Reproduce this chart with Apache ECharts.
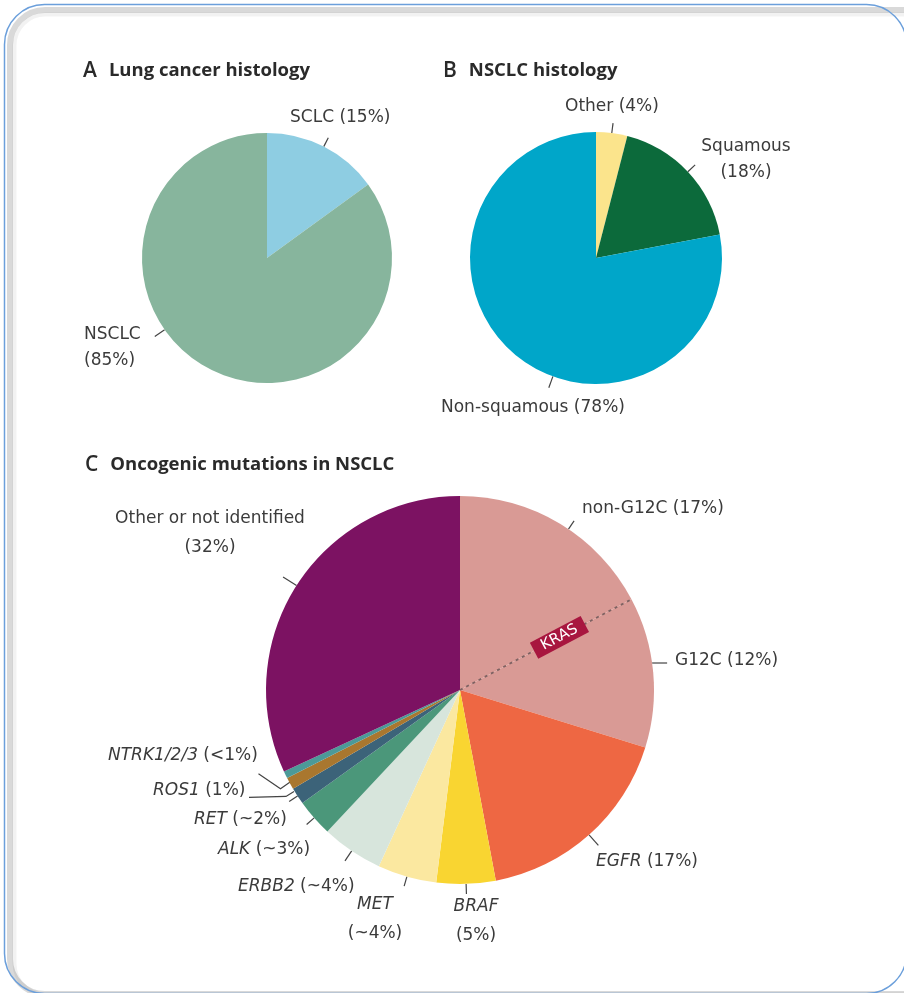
<!DOCTYPE html>
<html>
<head>
<meta charset="utf-8">
<title>Lung cancer histology and oncogenic mutations in NSCLC</title>
<script src="https://cdn.jsdelivr.net/npm/echarts@6/dist/echarts.min.js"></script>
<style>
  html, body { margin: 0; padding: 0; background: #fff; }
  #chart { width: 904px; height: 993px; }
</style>
</head>
<body>
<div id="chart"></div>
<script>
// A - lung cancer histology (clockwise from 12 o'clock)
const histologyNames = ['SCLC', 'NSCLC'];
const histologyValues = [15, 85];
const histologyLabels = ['SCLC (15%)', 'NSCLC\n(85%)'];
const histologyColors = ['#8ECDE2', '#87B59D'];

// B - NSCLC histology
const nsclcNames = ['Other', 'Squamous', 'Non-squamous'];
const nsclcValues = [4, 18, 78];
const nsclcLabels = ['Other (4%)', 'Squamous\n(18%)', 'Non-squamous (78%)'];
const nsclcColors = ['#FBE48C', '#0C6A3B', '#00A6C9'];

// C - oncogenic mutations in NSCLC
const mutationNames = ['KRAS non-G12C', 'KRAS G12C', 'EGFR', 'BRAF', 'MET', 'ERBB2', 'ALK', 'RET', 'ROS1', 'NTRK1/2/3', 'Other or not identified'];
const mutationValues = [17.2, 12.5, 17.2, 4.9, 4.9, 5.1, 3.1, 1.4, 1.0, 0.6, 31.8];
const mutationLabels = [
  'non-G12C (17%)', 'G12C (12%)', '{i|EGFR} (17%)', '{i|BRAF}\n(5%)', '{i|MET}\n(~4%)',
  '{i|ERBB2} (~4%)', '{i|ALK} (~3%)', '{i|RET} (~2%)', '{i|ROS1} (1%)', '{i|NTRK1/2/3} (<1%)',
  'Other or not identified\n(32%)'
];
const mutationColors = ['#D99A95', '#D99A95', '#EE6743', '#F9D531', '#FBE8A0', '#D7E5DC', '#4B977A', '#3C6379', '#A9772F', '#4C9A98', '#7C1262'];

// geometry of the three pies
const pieA = { cx: 267, cy: 258, r: 125 };
const pieB = { cx: 596, cy: 258, r: 126 };
const pieC = { cx: 460, cy: 690, r: 194 };

const labelFont = 'DejaVu Sans';
const labelSize = 17;
const textColor = '#3b3b3b';

// where each label sits; tickAt = angle (deg clockwise from top) of the leader tick
const layoutA = [
  { x: 290, y: 118, align: 'left' },
  { x: 84, y: 348, align: 'left', tickAt: 235, len: 12 }
];
const layoutB = [
  { x: 565, y: 107, align: 'left' },
  { x: 746, y: 160, align: 'center' },
  { x: 441, y: 408, align: 'left', tickAt: 200, len: 12 }
];
const layoutC = [
  { x: 582, y: 509, align: 'left', tickAt: 34 },
  { x: 675, y: 661, align: 'left', tickAt: 82, dir: 90, len: 15 },
  { x: 596, y: 862, align: 'left', len: 14 },
  { x: 476, y: 921, align: 'center' },
  { x: 375, y: 919, align: 'center' },
  { x: 238, y: 887, align: 'left', len: 12 },
  { x: 218, y: 850, align: 'left' },
  { x: 194, y: 820, align: 'left' },
  { x: 153, y: 791, align: 'left', path: [[-41, 14], [-4, 13], [4, 8]] },
  { x: 108, y: 756, align: 'left', path: [[-27, -1], [-5, 14], [5, 7]] },
  { x: 210, y: 533, align: 'center', len: 16 }
];

const toRad = (d) => d * Math.PI / 180;
const pointAt = (p, deg, dist) => [p.cx + dist * Math.sin(toRad(deg)), p.cy - dist * Math.cos(toRad(deg))];

// middle angle of each slice, read from the data
const midAngles = (values) => {
  const total = values.reduce((a, b) => a + b, 0);
  let acc = 0;
  return values.map((v) => {
    const m = (acc + v / 2) / total * 360;
    acc += v;
    return m;
  });
};

const makeLayout = (pie, values, spec) => {
  const mids = midAngles(values);
  return (params) => {
    const s = spec[params.dataIndex];
    const at = s.tickAt != null ? s.tickAt : mids[params.dataIndex];
    const start = pointAt(pie, at, pie.r);
    let pts;
    if (s.path) {
      pts = s.path.map((d) => [start[0] + d[0], start[1] + d[1]]);
    } else {
      const len = s.len || 10;
      const dir = toRad(s.dir != null ? s.dir : at);
      const end = [start[0] + len * Math.sin(dir), start[1] - len * Math.cos(dir)];
      pts = [start, end, end];
    }
    return { x: s.x, y: s.y, align: s.align, verticalAlign: 'middle', labelLinePoints: pts };
  };
};

const pieSeries = (pie, names, values, labels, colors, spec, lineHeight) => ({
  type: 'pie',
  silent: true,
  animation: false,
  center: [pie.cx, pie.cy],
  radius: pie.r,
  startAngle: 90,
  clockwise: true,
  avoidLabelOverlap: false,
  itemStyle: { borderWidth: 0 },
  label: {
    show: true,
    position: 'outside',
    fontFamily: labelFont,
    fontSize: labelSize,
    color: textColor,
    lineHeight: lineHeight,
    formatter: (p) => labels[p.dataIndex],
    rich: {
      i: { fontFamily: labelFont, fontSize: labelSize, color: textColor, fontStyle: 'italic', lineHeight: lineHeight }
    }
  },
  labelLine: { show: true, length: 10, length2: 0, smooth: false, lineStyle: { color: '#444', width: 1.2 } },
  labelLayout: makeLayout(pie, values, spec),
  data: names.map((n, i) => ({ name: n, value: values[i], itemStyle: { color: colors[i] } }))
});

const titleRich = {
  l: { fontFamily: 'Open Sans', fontWeight: 600, fontSize: 21, color: '#2a2a2a', lineHeight: 26 },
  t: { fontFamily: 'Open Sans', fontWeight: 'bold', fontSize: 18.5, color: '#2a2a2a', lineHeight: 26, padding: [0, 0, 0, 12] }
};

// KRAS divider between non-G12C and G12C
const totalC = mutationValues.reduce((a, b) => a + b, 0);
const krasAngle = mutationValues[0] / totalC * 360;
const krasEdge = pointAt(pieC, krasAngle, pieC.r);
const krasTag = pointAt(pieC, krasAngle, pieC.r * 0.58);

const myChart = echarts.init(document.getElementById('chart'), null, { renderer: 'canvas' });

const option = {
  backgroundColor: '#ffffff',
  title: [
    { left: 83, top: 58, padding: 0, text: '{l|A}{t|Lung cancer histology}', textStyle: { rich: titleRich } },
    { left: 443, top: 58, padding: 0, text: '{l|B}{t|NSCLC histology}', textStyle: { rich: titleRich } },
    { left: 85, top: 452, padding: 0, text: '{l|C}{t|Oncogenic mutations in NSCLC}', textStyle: { rich: titleRich } }
  ],
  graphic: [
    // panel frame with inner shadow
    { type: 'rect', z: 0, silent: true, shape: { x: 10, y: 10, width: 1000, height: 984, r: 35 }, style: { fill: 'none', stroke: 'rgba(0,0,0,0.15)', lineWidth: 6 } },
    { type: 'rect', z: 0, silent: true, shape: { x: 14.5, y: 14.5, width: 1000, height: 980, r: 31 }, style: { fill: 'none', stroke: 'rgba(0,0,0,0.05)', lineWidth: 4 } },
    { type: 'rect', z: 1, silent: true, shape: { x: 4.5, y: 4.5, width: 902, height: 989, r: 40 }, style: { fill: 'none', stroke: '#6B9FDB', lineWidth: 1.5 } },
    {
      type: 'line', z: 10, silent: true,
      shape: { x1: pieC.cx, y1: pieC.cy, x2: krasEdge[0], y2: krasEdge[1] },
      style: { stroke: '#7E6262', lineWidth: 1.8, lineDash: [3, 4] }
    },
    {
      type: 'text', z: 11, silent: true,
      x: krasTag[0], y: krasTag[1],
      rotation: toRad(90 - krasAngle),
      style: {
        text: 'KRAS', fill: '#ffffff', font: '15px "DejaVu Sans"',
        align: 'center', verticalAlign: 'middle',
        backgroundColor: '#A8163F', padding: [2, 9, 1, 9]
      }
    }
  ],
  series: [
    pieSeries(pieA, histologyNames, histologyValues, histologyLabels, histologyColors, layoutA, 26),
    pieSeries(pieB, nsclcNames, nsclcValues, nsclcLabels, nsclcColors, layoutB, 26),
    pieSeries(pieC, mutationNames, mutationValues, mutationLabels, mutationColors, layoutC, 29)
  ]
};

myChart.setOption(option);
window.addEventListener('resize', () => myChart.resize());
</script>
</body>
</html>
